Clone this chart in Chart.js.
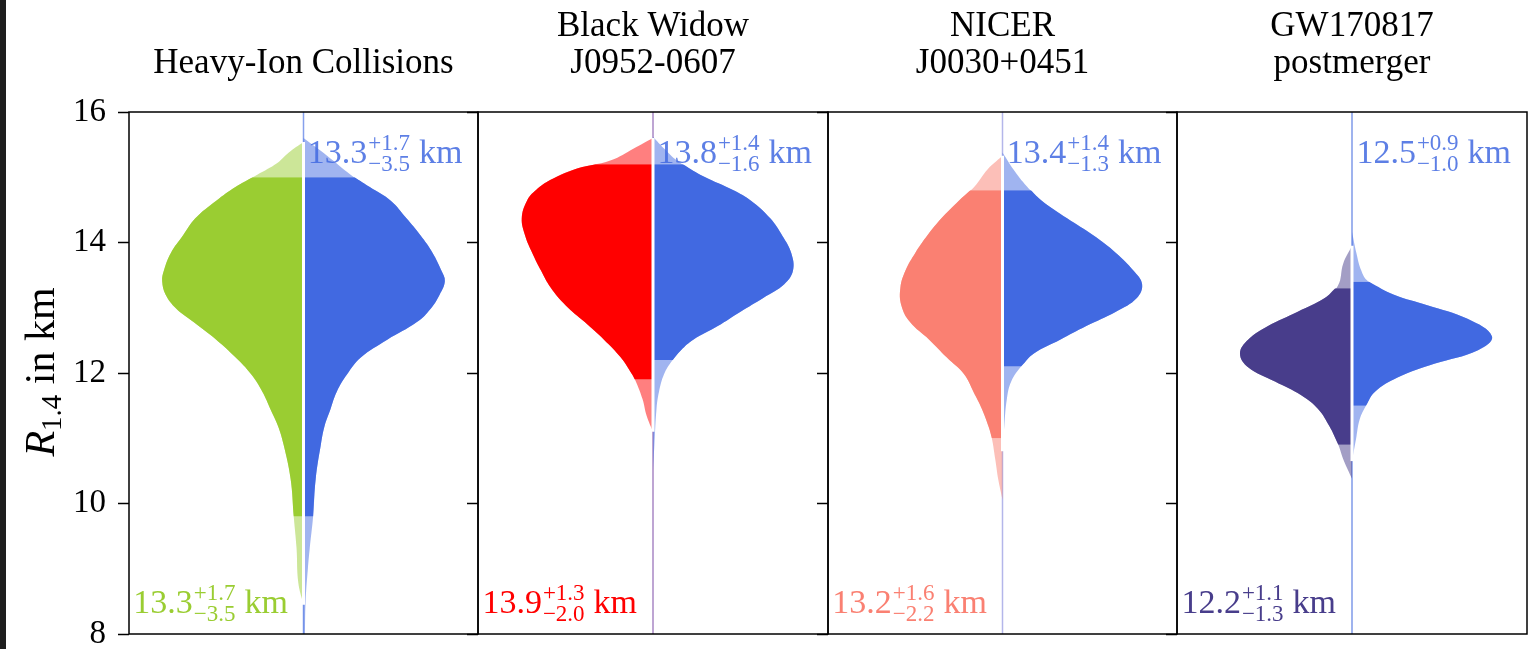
<!DOCTYPE html>
<html>
<head>
<meta charset="utf-8">
<script src="https://cdn.jsdelivr.net/npm/chart.js@4.4.1/dist/chart.umd.min.js"></script>
<style>
  body { margin: 0; background: #fff; width: 1529px; height: 649px; overflow: hidden; position: relative; }
  #edge { position: absolute; left: 0; top: 0; width: 6px; height: 649px; background: #1e1e1e; }
  canvas { position: absolute; top: 0; }
</style>
</head>
<body>
<div id="edge"></div>
<canvas id="p0"></canvas>
<canvas id="p1"></canvas>
<canvas id="p2"></canvas>
<canvas id="p3"></canvas>
<script>
// panel titles and colours
const panelTitles = [['Heavy-Ion Collisions'], ['Black Widow', 'J0952-0607'], ['NICER', 'J0030+0451'], ['GW170817', 'postmerger']];
const leftColors = ['#9acd32', '#ff0000', '#fa8072', '#483d8b'];
const rightColor = '#4169e1';
const centerColors = ['#86a0ec', '#a987c4', '#b4b6ea', '#7f9ae9'];

// R_1.4 medians and 90% bounds (km)
const leftMedian = [13.3, 13.9, 13.2, 12.2];
const leftPlus = [1.7, 1.3, 1.6, 1.1];
const leftMinus = [3.5, 2.0, 2.2, 1.3];
const rightMedian = [13.3, 13.8, 13.4, 12.5];
const rightPlus = [1.7, 1.4, 1.4, 0.9];
const rightMinus = [3.5, 1.6, 1.3, 1.0];

// violin profiles: radius (km) and half width
const hicR = [8.45, 8.79, 9.32, 9.77, 10.38, 10.91, 11.18, 11.45, 11.71, 11.98, 12.24, 12.51, 12.78, 12.99, 13.2, 13.41, 13.57, 13.84, 14.11, 14.37, 14.64, 14.85, 15.04, 15.22, 15.38, 15.54];
const hicW = [0, 0.03, 0.04, 0.055, 0.074, 0.115, 0.145, 0.19, 0.235, 0.30, 0.39, 0.50, 0.63, 0.73, 0.79, 0.81, 0.80, 0.76, 0.69, 0.62, 0.50, 0.39, 0.265, 0.15, 0.084, 0];
const hicBlueR = [8.0, 8.5, 9.0, 9.32, 9.8, 10.38, 10.91, 11.18, 11.45, 11.71, 11.98, 12.24, 12.51, 12.78, 12.99, 13.2, 13.41, 13.57, 13.84, 14.11, 14.37, 14.64, 14.85, 15.04, 15.33, 15.6];
const hicBlueW = [0.008, 0.012, 0.025, 0.036, 0.055, 0.07, 0.10, 0.12, 0.155, 0.19, 0.25, 0.33, 0.48, 0.65, 0.73, 0.78, 0.81, 0.79, 0.74, 0.67, 0.59, 0.50, 0.38, 0.27, 0.135, 0];

const widowR = [11.1, 11.34, 11.6, 11.88, 11.98, 12.24, 12.51, 12.78, 13.04, 13.31, 13.57, 13.84, 14.1, 14.37, 14.64, 14.8, 14.96, 15.12, 15.26, 15.44, 15.6];
const widowW = [0, 0.036, 0.06, 0.10, 0.12, 0.185, 0.28, 0.39, 0.50, 0.585, 0.64, 0.69, 0.73, 0.75, 0.72, 0.67, 0.585, 0.45, 0.24, 0.11, 0];
const widowBlueR = [10.5, 10.9, 11.45, 11.71, 11.98, 12.19, 12.35, 12.51, 12.72, 12.94, 13.15, 13.36, 13.57, 13.84, 14.1, 14.37, 14.64, 14.8, 15.01, 15.25, 15.44, 15.62];
const widowBlueW = [0, 0.008, 0.02, 0.034, 0.063, 0.11, 0.16, 0.23, 0.37, 0.50, 0.63, 0.75, 0.80, 0.79, 0.74, 0.67, 0.56, 0.46, 0.29, 0.14, 0.063, 0];

const nicerR = [10.06, 10.38, 10.65, 11.0, 11.18, 11.45, 11.71, 11.98, 12.24, 12.51, 12.78, 13.04, 13.31, 13.57, 13.84, 14.11, 14.37, 14.64, 14.86, 15.12, 15.33];
const nicerW = [0, 0.025, 0.04, 0.061, 0.08, 0.118, 0.166, 0.22, 0.32, 0.42, 0.53, 0.58, 0.585, 0.556, 0.50, 0.43, 0.35, 0.25, 0.16, 0.086, 0];
const nicerBlueR = [10.8, 11.18, 11.6, 11.87, 12.11, 12.3, 12.51, 12.72, 12.94, 13.15, 13.36, 13.57, 13.84, 14.11, 14.37, 14.64, 14.86, 15.12, 15.38];
const nicerBlueW = [0, 0.01, 0.025, 0.05, 0.11, 0.18, 0.33, 0.48, 0.65, 0.77, 0.80, 0.75, 0.65, 0.52, 0.37, 0.225, 0.14, 0.063, 0];

const gwR = [10.38, 10.65, 10.91, 11.18, 11.45, 11.66, 11.87, 12.09, 12.3, 12.51, 12.72, 12.94, 13.15, 13.34, 13.68, 13.95];
const gwW = [0, 0.046, 0.08, 0.128, 0.194, 0.29, 0.44, 0.594, 0.64, 0.594, 0.48, 0.31, 0.156, 0.08, 0.05, 0];
const gwBlueR = [10.65, 11.02, 11.29, 11.51, 11.71, 11.93, 12.14, 12.35, 12.56, 12.83, 13.04, 13.2, 13.41, 13.57, 13.84, 14.16];
const gwBlueW = [0, 0.025, 0.044, 0.082, 0.13, 0.26, 0.47, 0.72, 0.80, 0.66, 0.43, 0.24, 0.09, 0.053, 0.025, 0];

const leftProfiles = [[hicR, hicW], [widowR, widowW], [nicerR, nicerW], [gwR, gwW]];
const rightProfiles = [[hicBlueR, hicBlueW], [widowBlueR, widowBlueW], [nicerBlueR, nicerBlueW], [gwBlueR, gwBlueW]];

const borders = [129, 478, 828, 1177, 1527];
const serif = 'Liberation Serif';

function fade(hex, a) {
  const n = parseInt(hex.slice(1), 16);
  return 'rgba(' + (n >> 16) + ',' + ((n >> 8) & 255) + ',' + (n & 255) + ',' + a + ')';
}

function widthAt(rs, ws, r) {
  for (let i = 1; i < rs.length; i++) {
    if (r <= rs[i]) {
      const t = (r - rs[i - 1]) / (rs[i] - rs[i - 1]);
      return ws[i - 1] + t * (ws[i] - ws[i - 1]);
    }
  }
  return 0;
}

function profile(rs, ws, sign) {
  return rs.map((r, i) => ({x: sign * ws[i], y: r}));
}

// part of the profile inside the credible interval
function inner(rs, ws, sign, lo, hi) {
  const pts = [{x: sign * widthAt(rs, ws, lo), y: lo}];
  rs.forEach((r, i) => { if (r > lo && r < hi) pts.push({x: sign * ws[i], y: r}); });
  pts.push({x: sign * widthAt(rs, ws, hi), y: hi});
  return pts;
}

function area(points, color) {
  return {data: points, backgroundColor: color, borderColor: 'transparent', borderWidth: 0,
          pointRadius: 0, fill: {value: 0}, tension: 0.4};
}
function rule(points, color, width) {
  return {data: points, borderColor: color, borderWidth: width, pointRadius: 0, fill: false, tension: 0};
}

function drawValue(ctx, x, y, color, median, plus, minus) {
  ctx.fillStyle = color;
  ctx.textAlign = 'left';
  ctx.textBaseline = 'alphabetic';
  ctx.font = '34px "' + serif + '"';
  const main = median.toFixed(1);
  ctx.fillText(main, x, y);
  let cx = x + ctx.measureText(main).width + 1;
  ctx.font = '23px "' + serif + '"';
  const sup = '+' + plus.toFixed(1);
  const sub = '\u2212' + minus.toFixed(1);
  ctx.fillText(sup, cx, y - 13);
  ctx.fillText(sub, cx, y + 8);
  cx += Math.max(ctx.measureText(sup).width, ctx.measureText(sub).width) + 9;
  ctx.font = '34px "' + serif + '"';
  ctx.fillText('km', cx, y);
}

const framePlugin = {
  id: 'frame',
  afterDatasetsDraw(chart) {
    const a = chart.chartArea, ctx = chart.ctx;
    ctx.save();
    ctx.strokeStyle = '#000';
    ctx.lineWidth = 1.5;
    ctx.strokeRect(a.left, a.top, a.right - a.left, a.bottom - a.top);
    ctx.restore();
  }
};

const valuePlugin = {
  id: 'values',
  beforeDatasetsDraw(chart) {
    const i = chart.options.plugins.values.panel;
    const xs = chart.scales.x, ys = chart.scales.y, ctx = chart.ctx;
    ctx.save();
    drawValue(ctx, xs.getPixelForValue(-0.975), ys.getPixelForValue(8.32), leftColors[i],
              leftMedian[i], leftPlus[i], leftMinus[i]);
    drawValue(ctx, xs.getPixelForValue(0.025), ys.getPixelForValue(15.22), fade(rightColor, 0.85),
              rightMedian[i], rightPlus[i], rightMinus[i]);
    ctx.restore();
  }
};

const yTitlePlugin = {
  id: 'ytitle',
  afterDraw(chart) {
    const ctx = chart.ctx;
    const big = '42px "' + serif + '"';
    const small = '29px "' + serif + '"';
    ctx.save();
    ctx.fillStyle = '#000';
    ctx.textBaseline = 'alphabetic';
    ctx.font = 'italic ' + big;
    const wR = ctx.measureText('R').width;
    ctx.font = small;
    const wS = ctx.measureText('1.4').width;
    ctx.font = big;
    const wT = ctx.measureText(' in km').width;
    const total = wR + wS + wT;
    ctx.translate(40, 372);
    ctx.rotate(-Math.PI / 2);
    let u = -total / 2;
    ctx.font = 'italic ' + big;
    ctx.fillText('R', u, 14);
    u += wR;
    ctx.font = small;
    ctx.fillText('1.4', u, 21);
    u += wS;
    ctx.font = big;
    ctx.fillText(' in km', u, 14);
    ctx.restore();
  }
};

panelTitles.forEach((title, i) => {
  const axisWidth = i === 0 ? 129 : 11;
  const left = borders[i] - axisWidth;
  const canvas = document.getElementById('p' + i);
  canvas.width = borders[i + 1] - left + 2;
  canvas.height = 649;
  canvas.style.left = left + 'px';

  const [lr, lw] = leftProfiles[i];
  const [rr, rw] = rightProfiles[i];
  const lLo = leftMedian[i] - leftMinus[i], lHi = leftMedian[i] + leftPlus[i];
  const rLo = rightMedian[i] - rightMinus[i], rHi = rightMedian[i] + rightPlus[i];
  // white split only where both halves are drawn
  const gapLo = Math.max(lr[0], rr[0]);
  const gapHi = Math.min(lr[lr.length - 1], rr[rr.length - 1]);

  const datasets = [
    rule([{x: 0, y: gapLo}, {x: 0, y: gapHi}], '#ffffff', 3),
    area(inner(lr, lw, -1, lLo, lHi), leftColors[i]),
    area(inner(rr, rw, 1, rLo, rHi), rightColor),
    area(profile(lr, lw, -1), fade(leftColors[i], 0.5)),
    area(profile(rr, rw, 1), fade(rightColor, 0.5)),
    rule([{x: 0, y: 8}, {x: 0, y: 16}], centerColors[i], 1.5)
  ];

  const plugins = [framePlugin, valuePlugin];
  if (i === 0) plugins.push(yTitlePlugin);

  new Chart(canvas, {
    type: 'line',
    data: {datasets: datasets},
    plugins: plugins,
    options: {
      responsive: false,
      animation: false,
      events: [],
      indexAxis: 'y',
      layout: {padding: {left: 0, right: 2, top: 0, bottom: 15}},
      plugins: {
        legend: {display: false},
        tooltip: {enabled: false},
        values: {panel: i},
        title: {
          display: true,
          fullSize: false,
          text: title,
          color: '#000',
          font: {family: serif, size: 35, weight: 'normal', lineHeight: 37 / 35},
          padding: {top: title.length === 1 ? 45.5 : 8.5, bottom: 29.5}
        }
      },
      scales: {
        x: {type: 'linear', min: -1, max: 1, display: false},
        y: {
          type: 'linear', min: 8, max: 16,
          ticks: {stepSize: 2, display: i === 0, padding: 12, color: '#000',
                  font: {family: serif, size: 33}},
          grid: {drawOnChartArea: false, drawTicks: true, tickLength: 11, tickWidth: 1.5, tickColor: '#000'},
          border: {display: false},
          afterFit: s => { s.width = axisWidth; s.paddingTop = 0; s.paddingBottom = 0; }
        }
      }
    }
  });
});
</script>
</body>
</html>
